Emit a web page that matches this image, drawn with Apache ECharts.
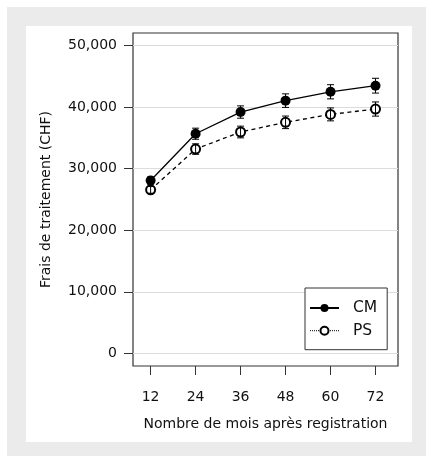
<!DOCTYPE html>
<html><head><meta charset="utf-8">
<script src="https://cdn.jsdelivr.net/npm/echarts@6/dist/echarts.min.js"></script>
<style>html,body{margin:0;padding:0;background:#fff}#c{width:426px;height:456px}</style>
</head><body><div id="c"></div>
<script>
const months = [12, 24, 36, 48, 60, 72];
const cmMean = [28050, 35650, 39170, 41020, 42460, 43450];
const cmErr = [600, 900, 1000, 1100, 1150, 1200];
const psMean = [26540, 33160, 35930, 37500, 38790, 39660];
const psErr = [550, 850, 950, 1020, 1050, 1150];
const yTicks = [0, 10000, 20000, 30000, 40000, 50000];
const xTicks = [12, 24, 36, 48, 60, 72];

const FONT = 'DejaVu Sans, Liberation Sans, Arial, sans-serif';
const chart = echarts.init(document.getElementById('c'), null, {renderer: 'canvas'});

function errSeries(id, mean, err) {
  return {
    type: 'custom', id: id, z: 5, silent: true,
    data: months.map((m, i) => [m, mean[i] - err[i], mean[i] + err[i]]),
    encode: {x: 0, y: [1, 2]},
    renderItem(params, api) {
      const x = api.value(0);
      const lo = api.coord([x, api.value(1)]);
      const hi = api.coord([x, api.value(2)]);
      const w = 3.5;
      const st = {stroke: '#000', lineWidth: 1};
      return {type: 'group', children: [
        {type: 'line', shape: {x1: lo[0], y1: lo[1], x2: hi[0], y2: hi[1]}, style: st},
        {type: 'line', shape: {x1: lo[0] - w, y1: lo[1], x2: lo[0] + w, y2: lo[1]}, style: st},
        {type: 'line', shape: {x1: hi[0] - w, y1: hi[1], x2: hi[0] + w, y2: hi[1]}, style: st}
      ]};
    }
  };
}

chart.setOption({
  animation: false,
  textStyle: {fontFamily: FONT},
  graphic: [
    {type: 'rect', z: -10, silent: true, shape: {x: 7, y: 7, width: 419, height: 449}, style: {fill: '#ebebeb'}},
    {type: 'rect', z: -9, silent: true, shape: {x: 26, y: 26, width: 386, height: 416}, style: {fill: '#ffffff'}}
  ],
  grid: {left: 133, right: 28, top: 33, bottom: 90, show: true, borderColor: '#333', borderWidth: 1.2, backgroundColor: '#fff'},
  xAxis: {
    type: 'value', min: 7.3, max: 78,
    name: 'Nombre de mois après registration', nameLocation: 'middle', nameGap: 51,
    nameTextStyle: {fontSize: 14, color: '#111', fontFamily: FONT},
    axisLine: {show: false, onZero: false},
    axisTick: {show: true, customValues: xTicks, length: 9, lineStyle: {color: '#333', width: 1}},
    axisLabel: {customValues: xTicks, margin: 24, fontSize: 14, color: '#111', fontFamily: FONT},
    splitLine: {show: false}
  },
  yAxis: {
    type: 'value', min: -2050, max: 52000,
    name: 'Frais de traitement (CHF)', nameLocation: 'middle', nameGap: 80,
    nameTextStyle: {fontSize: 14, color: '#111', fontFamily: FONT},
    axisLine: {show: false, onZero: false},
    axisTick: {show: true, customValues: yTicks, length: 9, lineStyle: {color: '#333', width: 1}},
    axisLabel: {customValues: yTicks, margin: 16, fontSize: 14, color: '#111', fontFamily: FONT,
      formatter: v => v.toLocaleString('en-US')},
    splitLine: {show: true, lineStyle: {color: '#dcdcdc', width: 1}}
  },
  legend: {
    orient: 'vertical', left: 305, top: 288,
    backgroundColor: '#fff', borderColor: '#333', borderWidth: 1, borderRadius: 0,
    padding: [12, 10, 11, 4],
    itemWidth: 29, itemHeight: 10, itemGap: 6.7,
    textStyle: {fontSize: 15.5, lineHeight: 16, color: '#111', fontFamily: FONT, padding: [0, 0, 0, 9]},
    data: [
      {name: 'CM'},
      {name: 'PS', lineStyle: {type: 'dotted', width: 1}}
    ]
  },
  series: [
    {
      name: 'CM', type: 'line', z: 3,
      data: months.map((m, i) => [m, cmMean[i]]),
      symbol: 'circle', symbolSize: 10,
      lineStyle: {color: '#000', width: 1.3},
      itemStyle: {color: '#000'}
    },
    {
      name: 'PS', type: 'line', z: 3,
      data: months.map((m, i) => [m, psMean[i]]),
      symbol: 'emptyCircle', symbolSize: 9,
      lineStyle: {color: '#000', width: 1.3, type: [4, 3.5]},
      itemStyle: {color: '#000', borderWidth: 1.2}
    },
    errSeries('cmErr', cmMean, cmErr),
    errSeries('psErr', psMean, psErr)
  ]
});
</script></body></html>
